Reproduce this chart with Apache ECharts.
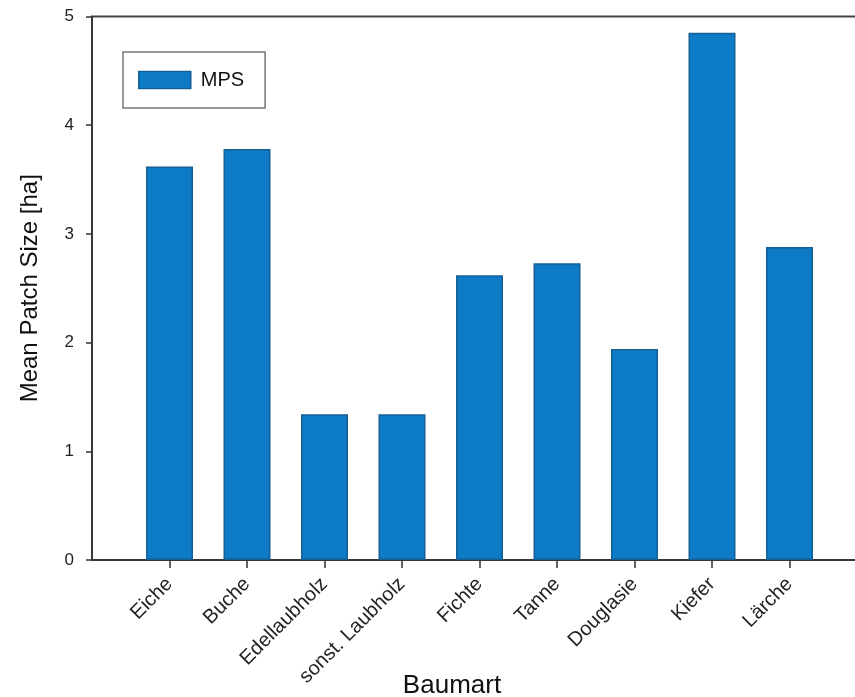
<!DOCTYPE html>
<html>
<head>
<meta charset="utf-8">
<script src="https://cdn.jsdelivr.net/npm/echarts@6/dist/echarts.min.js"></script>
<style>
html,body{margin:0;padding:0;background:#fff;}
#chart{width:855px;height:697px;}
</style>
</head>
<body>
<div id="chart"></div>
<script>
// Categories (padded with empty slots at both ends, as in the original axis 0..10)
const categories = ['', 'Eiche', 'Buche', 'Edellaubholz', 'sonst. Laubholz', 'Fichte', 'Tanne', 'Douglasie', 'Kiefer', 'Lärche', ''];
const mpsValues = ['-', 3.62, 3.78, 1.34, 1.34, 2.62, 2.73, 1.94, 4.85, 2.88, '-'];
const yTicks = [0, 1, 2, 3, 4, 5];
const seriesName = 'MPS';
const xTitle = 'Baumart';
const yTitle = 'Mean Patch Size [ha]';

const chart = echarts.init(document.getElementById('chart'), null, {renderer: 'canvas'});
const font = 'Liberation Sans, Arial, sans-serif';
chart.setOption({
  animation: false,
  backgroundColor: '#ffffff',
  title: {
    text: xTitle,
    left: 447,
    top: 668,
    textAlign: 'center',
    textStyle: {fontFamily: font, fontSize: 26, fontWeight: 'normal', color: '#111'}
  },
  legend: {
    data: [{name: seriesName, icon: 'rect'}],
    left: 123,
    top: 52,
    orient: 'vertical',
    padding: [18, 21, 18, 15],
    borderColor: '#777',
    borderWidth: 1.5,
    itemWidth: 52,
    itemHeight: 17,
    textStyle: {fontFamily: font, fontSize: 20, color: '#111', padding: [0, 0, 0, 5]},
    itemStyle: {color: '#0e7bc6', borderColor: '#155f93', borderWidth: 1.5}
  },
  grid: {
    left: 92,
    top: 16.5,
    width: 775,
    height: 543.5,
    show: true,
    borderColor: '#444',
    borderWidth: 2,
    containLabel: false,
    outerBoundsMode: 'none'
  },
  xAxis: {
    type: 'category',
    data: categories,
    boundaryGap: false,
    axisLine: {lineStyle: {color: '#333', width: 1.5}},
    axisTick: {
      length: 8,
      lineStyle: {color: '#333', width: 1.5},
      interval: function (i) { return i > 0 && i < categories.length - 1; }
    },
    axisLabel: {
      rotate: 45,
      margin: 21,
      interval: 0,
      fontFamily: font,
      fontSize: 20,
      color: '#222'
    },
    splitLine: {show: false}
  },
  yAxis: {
    type: 'value',
    min: yTicks[0],
    max: yTicks[yTicks.length - 1],
    interval: 1,
    name: yTitle,
    nameLocation: 'middle',
    nameGap: 50,
    nameTextStyle: {fontFamily: font, fontSize: 24, color: '#111'},
    axisLine: {show: true, lineStyle: {color: '#333', width: 1.5}},
    axisTick: {show: true, length: 6, lineStyle: {color: '#333', width: 1.5}},
    axisLabel: {fontFamily: font, fontSize: 17, color: '#222', margin: 18},
    splitLine: {show: false}
  },
  series: [{
    name: seriesName,
    type: 'bar',
    data: mpsValues,
    barWidth: 47,
    itemStyle: {color: '#0e7bc6', borderColor: '#155f93', borderWidth: 1.5}
  }]
});
</script>
</body>
</html>
